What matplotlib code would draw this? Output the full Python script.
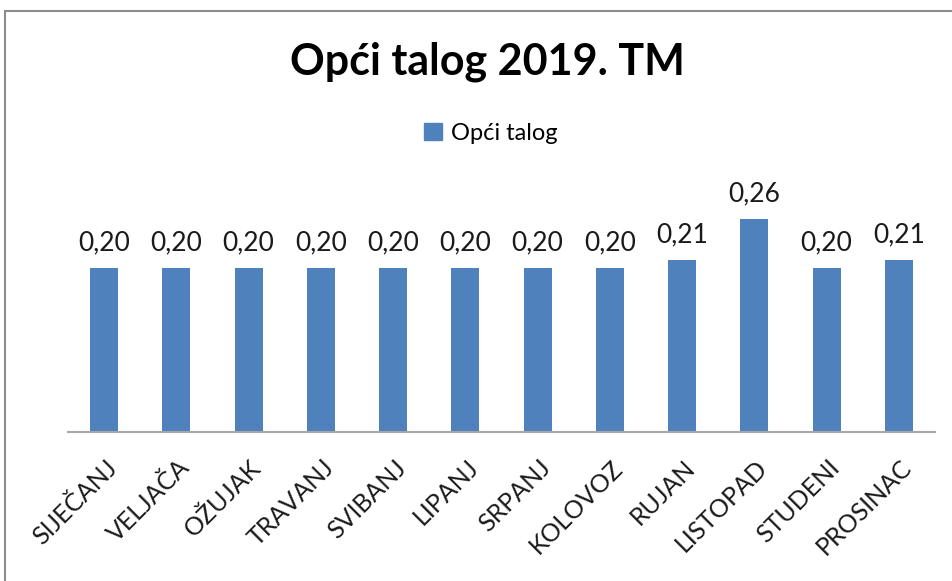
import matplotlib
matplotlib.use("Agg")
import matplotlib.pyplot as plt
import matplotlib.transforms as mtransforms
from matplotlib.patches import Rectangle, Patch

months = ['SIJEČANJ', 'VELJAČA', 'OŽUJAK', 'TRAVANJ', 'SVIBANJ', 'LIPANJ',
          'SRPANJ', 'KOLOVOZ', 'RUJAN', 'LISTOPAD', 'STUDENI', 'PROSINAC']
talog = [0.20, 0.20, 0.20, 0.20, 0.20, 0.20, 0.20, 0.20, 0.21, 0.26, 0.20, 0.21]
series_name = 'Opći talog'
title = 'Opći talog 2019. TM'

plt.rcParams['font.family'] = ['Lato', 'DejaVu Sans']
bar_color = '#4F81BD'

fig = plt.figure(figsize=(9.53, 5.81), dpi=100)
fig.patch.set_facecolor('white')

# chart frame (only top and left edge visible in the picture)
fig.add_artist(Rectangle((4.5 / 953, -0.1), 1.2, 1 - 10.5 / 581 + 0.1,
                         transform=fig.transFigure, fill=False,
                         edgecolor='#8c8c8c', linewidth=1.5))

ax = fig.add_axes([68 / 953, 1 - 432 / 581, (935 - 68) / 953, 262.4 / 581])
x = range(len(months))
bars = ax.bar(x, talog, width=0.39, color=bar_color)
ax.set_xlim(-0.5, len(months) - 0.5)
ax.set_ylim(0, 0.32)

for rect, v in zip(bars, talog):
    ax.annotate(f'{v:.2f}'.replace('.', ','),
                (rect.get_x() + rect.get_width() / 2, v),
                xytext=(0, 9), textcoords='offset points',
                ha='center', va='bottom', fontsize=19, color='#1a1a1a')

ax.set_xticks(list(x))
ax.set_xticklabels(months, rotation=45, ha='right', rotation_mode='anchor',
                   fontsize=18, color='#1a1a1a')
ax.tick_params(axis='x', length=0, pad=17)
shift = mtransforms.ScaledTranslation(1 / 100, 0, fig.dpi_scale_trans)
for lbl in ax.get_xticklabels():
    lbl.set_transform(lbl.get_transform() + shift)
ax.set_yticks([])
for side in ['top', 'right', 'left']:
    ax.spines[side].set_visible(False)
ax.spines['bottom'].set_color('#a6a6a6')
ax.spines['bottom'].set_linewidth(1.5)

fig.text(487 / 953, 1 - 62 / 581, title, ha='center', va='center',
         fontsize=31, fontweight='bold', color='black')

fig.legend(handles=[Patch(color=bar_color, label=series_name)],
           loc='center', bbox_to_anchor=(491 / 953, 1 - 133 / 581),
           frameon=False, fontsize=17, handlelength=0.75, handleheight=0.75,
           handletextpad=0.4)

fig.savefig('out.png', dpi=100)
